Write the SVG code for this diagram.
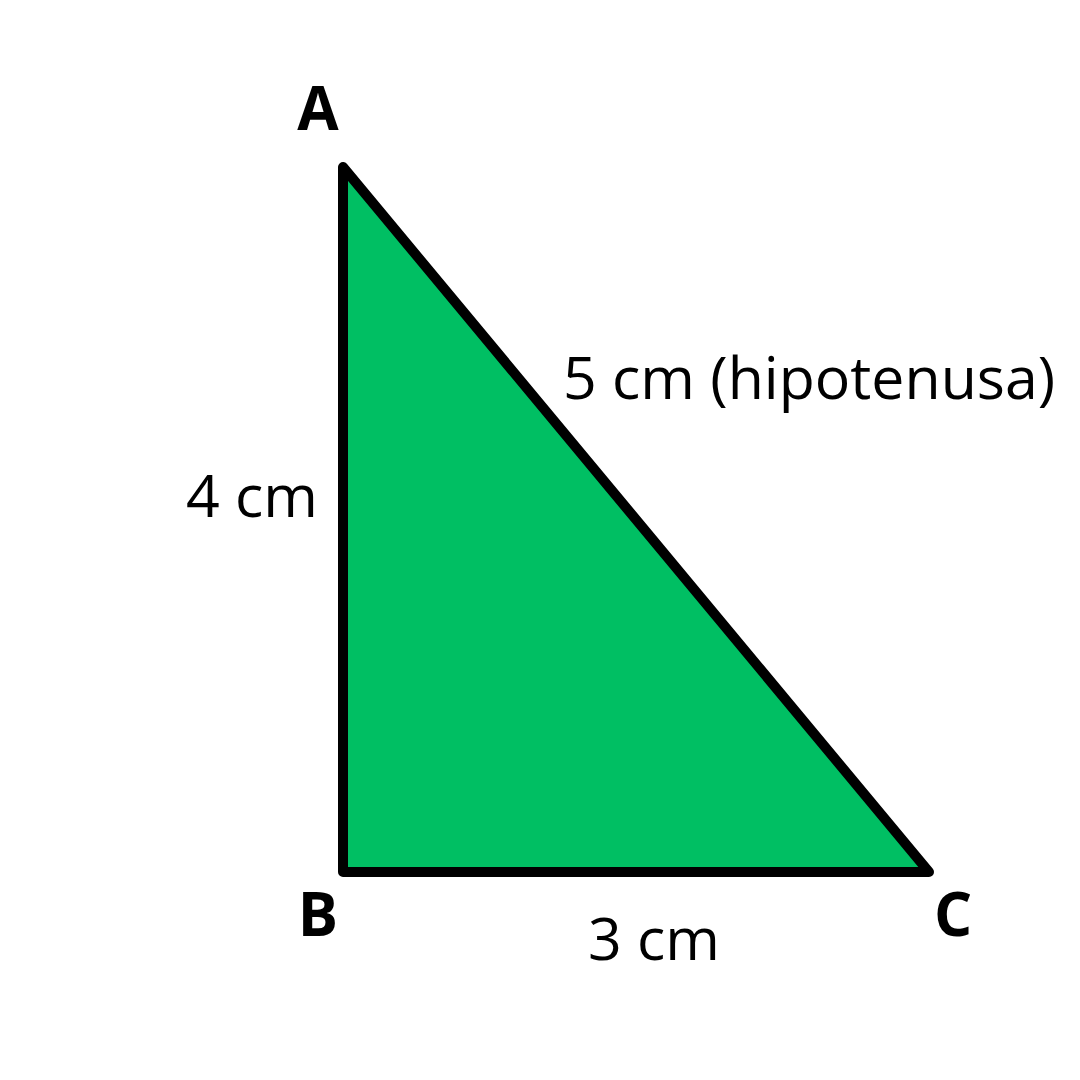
<svg xmlns="http://www.w3.org/2000/svg" width="1080" height="1080" viewBox="0 0 1080 1080">
<style>
.lbl{font-family:"Open Sans","Noto Sans",sans-serif;font-size:59px;fill:#000}
.v{font-weight:bold;font-size:60px}
</style>
<rect width="1080" height="1080" fill="#fff"/>
<g id="triangle">
<polygon points="343,167 343,872 929,872" fill="#00BF63" stroke="#000" stroke-width="10" stroke-linejoin="round"/>
</g>
<g id="vertex-A"><text class="lbl v" x="318" y="130" text-anchor="middle">A</text></g>
<g id="vertex-B"><text class="lbl v" x="318" y="936" text-anchor="middle">B</text></g>
<g id="vertex-C"><text class="lbl v" x="953" y="936" text-anchor="middle">C</text></g>
<g id="label-hyp"><text class="lbl" x="563" y="399">5 cm (hipotenusa)</text></g>
<g id="label-AB"><text class="lbl" x="186" y="517">4 cm</text></g>
<g id="label-BC"><text class="lbl" x="588" y="960">3 cm</text></g>
</svg>
